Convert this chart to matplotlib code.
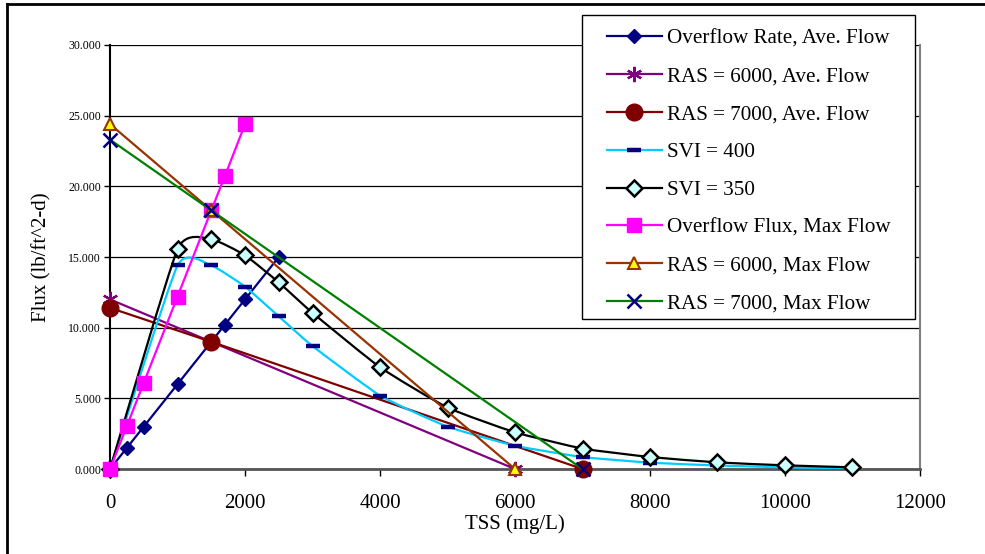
import numpy as np
import matplotlib
matplotlib.use("Agg")
import matplotlib.pyplot as plt
from matplotlib.path import Path
from matplotlib.patches import PathPatch, Rectangle
from matplotlib.lines import Line2D

plt.rcParams['font.family'] = ['Liberation Serif', 'DejaVu Serif']

# ---- data ----
ovr_ave_x = [0, 250, 500, 1000, 1500, 1700, 2000, 2500]
ovr_ave_y = [0.0, 1.5, 3.0, 6.0, 9.0, 10.2, 12.0, 15.0]

ras6000_ave_x = [0, 1500, 6000]
ras6000_ave_y = [12.0, 9.0, 0.0]

ras7000_ave_x = [0, 1500, 7000]
ras7000_ave_y = [11.4, 9.0, 0.0]

svi400_x = [0, 1000, 1500, 2000, 2500, 3000, 4000, 5000, 6000, 7000, 8000, 9000, 10000, 11000]
svi400_y = [0.0, 14.4, 14.4, 12.9, 10.8, 8.7, 5.2, 3.0, 1.65, 0.85, 0.45, 0.25, 0.12, 0.05]

svi350_x = [0, 1000, 1500, 2000, 2500, 3000, 4000, 5000, 6000, 7000, 8000, 9000, 10000, 11000]
svi350_y = [0.0, 15.55, 16.25, 15.12, 13.2, 11.05, 7.2, 4.35, 2.6, 1.45, 0.85, 0.47, 0.26, 0.12]

ovf_max_x = [0, 250, 500, 1000, 1500, 1700, 2000]
ovf_max_y = [0.0, 3.05, 6.1, 12.2, 18.3, 20.7, 24.4]

ras6000_max_x = [0, 1500, 6000]
ras6000_max_y = [24.4, 18.3, 0.0]

ras7000_max_x = [0, 1500, 7000]
ras7000_max_y = [23.3, 18.3, 0.0]

x_ticks = [0, 2000, 4000, 6000, 8000, 10000, 12000]
y_ticks = [0, 5, 10, 15, 20, 25, 30]

NAVY = '#000080'
PURPLE = '#800080'
DRED = '#800000'
CYAN = '#00CCFF'
MAG = '#FF00FF'
BROWN = '#993300'
GREEN = '#008000'


def smooth_path(x, y, f=1/12.):
    # bezier smoothing like the spreadsheet "smoothed line" option
    pts = np.column_stack([x, y]).astype(float)
    n = len(pts)
    verts = [pts[0]]
    codes = [Path.MOVETO]
    for i in range(n - 1):
        p0 = pts[i - 1] if i > 0 else pts[i]
        p1 = pts[i]
        p2 = pts[i + 1]
        p3 = pts[i + 2] if i + 2 < n else pts[i + 1]
        verts += [p1 + (p2 - p0) * f, p2 - (p3 - p1) * f, p2]
        codes += [Path.CURVE4] * 3
    return Path(verts, codes)


fig = plt.figure(figsize=(9.85, 5.54), dpi=100)
ax = fig.add_axes([0.1117, 0.1534, 0.8223, 0.7654])

lw = 1.6
kw = dict(clip_on=False)

ax.plot(ovr_ave_x, ovr_ave_y, color=NAVY, lw=lw, marker='D', ms=7,
        mfc=NAVY, mec=NAVY, label='Overflow Rate, Ave. Flow', zorder=3, **kw)
ax.plot(ras6000_ave_x, ras6000_ave_y, color=PURPLE, lw=lw, marker=(6, 2, 0), ms=11,
        mew=1.6, mec=PURPLE, label='RAS = 6000, Ave. Flow', zorder=3, **kw)
ax.plot(ras7000_ave_x, ras7000_ave_y, color=DRED, lw=lw, marker='o', ms=12,
        mfc=DRED, mec=DRED, label='RAS = 7000, Ave. Flow', zorder=3, **kw)

ax.add_patch(PathPatch(smooth_path(svi400_x, svi400_y), fc='none', ec=CYAN, lw=lw, zorder=3))
ax.plot(svi400_x, svi400_y, ls='none', marker='_', ms=10, mew=3.2, color=NAVY, zorder=3, **kw)

ax.add_patch(PathPatch(smooth_path(svi350_x, svi350_y), fc='none', ec='black', lw=lw, zorder=3))
ax.plot(svi350_x, svi350_y, ls='none', marker='D', ms=8, mfc='#CCFFFF', mec='black',
        mew=1.8, zorder=3, **kw)

ax.plot(ovf_max_x, ovf_max_y, color=MAG, lw=lw, marker='s', ms=10.5, mfc=MAG, mec=MAG,
        label='Overflow Flux, Max Flow', zorder=3, **kw)
ax.plot(ras6000_max_x, ras6000_max_y, color=BROWN, lw=lw, marker='^', ms=9, mfc='#FFFF00',
        mec=BROWN, mew=1.5, label='RAS = 6000, Max Flow', zorder=3, **kw)
ax.plot(ras7000_max_x, ras7000_max_y, color=GREEN, lw=lw, marker='x', ms=10, mec=NAVY,
        mew=1.8, label='RAS = 7000, Max Flow', zorder=3, **kw)

ax.set_xlim(0, 12000)
ax.set_ylim(0, 30)
ax.set_xticks(x_ticks)
ax.set_xticklabels([str(t) for t in x_ticks], fontsize=15)
ax.set_yticks(y_ticks)
ax.set_yticklabels(['%.3f' % t for t in y_ticks], fontsize=8.5)
ax.tick_params(axis='x', direction='out', length=5, width=1, pad=13, color='black')
ax.tick_params(axis='y', direction='out', length=4.5, width=1, pad=2, color='black')
ax.grid(axis='y', color='black', lw=0.9)
ax.set_axisbelow(True)

ax.spines['top'].set_visible(False)
ax.spines['left'].set_color('black')
ax.spines['left'].set_linewidth(1.5)
ax.spines['bottom'].set_color('#555555')
ax.spines['bottom'].set_linewidth(2)
ax.spines['right'].set_color('#808080')
ax.spines['right'].set_linewidth(1.5)

ax.set_xlabel('TSS (mg/L)', fontsize=15, labelpad=1)
ax.set_ylabel('Flux (lb/ft^2-d)', fontsize=15, labelpad=12)

h, l = ax.get_legend_handles_labels()
h.insert(3, Line2D([], [], color=CYAN, lw=lw, marker='_', ms=10, mew=3.2, mec=NAVY))
l.insert(3, 'SVI = 400')
h.insert(4, Line2D([], [], color='black', lw=lw, marker='D', ms=8, mfc='#CCFFFF', mec='black', mew=1.8))
l.insert(4, 'SVI = 350')

# legend box drawn separately so the inner margins match the original
fig.add_artist(Rectangle((0.5909, 0.4242), 0.3381, 0.5487, transform=fig.transFigure,
                         fc='white', ec='black', lw=1, zorder=4))
leg = fig.legend(h, l, loc='upper left', bbox_to_anchor=(0.616, 0.948), fontsize=15.2,
                 frameon=False, handlelength=2.6, handletextpad=0.25, labelspacing=0.855,
                 borderpad=0, borderaxespad=0, numpoints=1)
leg.set_zorder(5)

# outer frame edges (top and left) of the embedded chart
fig.add_artist(Line2D([0.0076, 1.0], [0.992, 0.992], transform=fig.transFigure, color='black', lw=2))
fig.add_artist(Line2D([0.0076, 0.0076], [0.0, 0.992], transform=fig.transFigure, color='black', lw=2))

fig.savefig('out.png', dpi=100)
